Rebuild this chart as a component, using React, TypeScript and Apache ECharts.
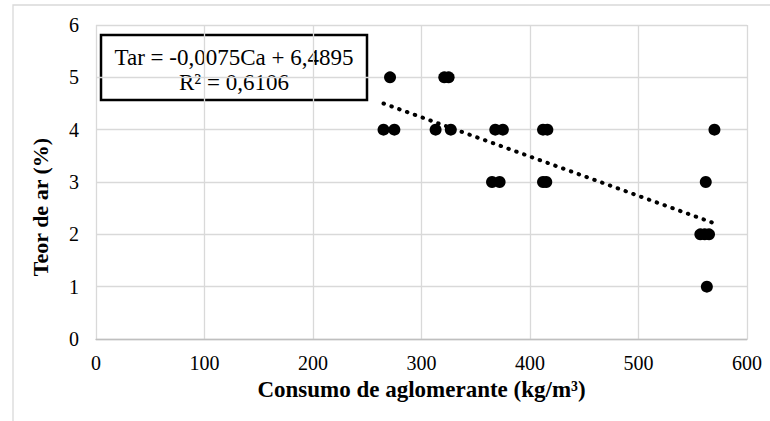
import React, { useEffect, useRef } from "react";
import * as echarts from "echarts";

// Consumo de aglomerante (kg/m³) and Teor de ar (%)
const consumo = [271, 321, 325, 265, 275, 313, 327, 368, 375, 412, 416, 570, 365, 372, 412, 415, 562, 557, 561, 565, 563];
const teorAr = [5, 5, 5, 4, 4, 4, 4, 4, 4, 4, 4, 4, 3, 3, 3, 3, 3, 2, 2, 2, 1];

// Linear trendline endpoints (Tar = -0,0075Ca + 6,4895)
const trendX = [265, 570];
const trendY = [4.5, 2.21];

const xTicks = { min: 0, max: 600, interval: 100 };
const yTicks = { min: 0, max: 6, interval: 1 };

const equationLine1 = "Tar = -0,0075Ca + 6,4895";
const equationLine2 = "R² = 0,6106";
const xTitle = "Consumo de aglomerante (kg/m³)";
const yTitle = "Teor de ar (%)";

const FONT = '"Liberation Serif", "Times New Roman", serif';

export default function App() {
  const ref = useRef<HTMLDivElement>(null);
  useEffect(() => {
    if (!ref.current) return;
    const chart = echarts.init(ref.current, null, { renderer: "svg" });
    const grid = "#d9d9d9";
    chart.setOption({
      animation: false,
      backgroundColor: "#ffffff",
      grid: { left: 96, right: 23, top: 25, bottom: 82, containLabel: false },
      xAxis: {
        type: "value",
        min: xTicks.min,
        max: xTicks.max,
        interval: xTicks.interval,
        name: xTitle,
        nameLocation: "middle",
        nameGap: 38,
        nameTextStyle: { fontFamily: FONT, fontWeight: "bold", fontSize: 23, color: "#000" },
        axisLine: { show: true, lineStyle: { color: "#bfbfbf", width: 1.3 } },
        axisTick: { show: false },
        axisLabel: { fontFamily: FONT, fontSize: 20, color: "#000", margin: 14 },
        splitLine: { show: true, lineStyle: { color: grid, width: 1.3 } },
      },
      yAxis: {
        type: "value",
        min: yTicks.min,
        max: yTicks.max,
        interval: yTicks.interval,
        axisLine: { show: false },
        axisTick: { show: false },
        axisLabel: { fontFamily: FONT, fontSize: 20, color: "#000", margin: 17 },
        splitLine: { show: true, lineStyle: { color: grid, width: 1.3 } },
      },
      series: [
        {
          type: "line",
          data: trendX.map((x, i) => [x, trendY[i]]),
          symbol: "none",
          silent: true,
          lineStyle: { color: "#000", width: 4, type: [0.5, 7.8], cap: "round", opacity: 1 },
          z: 3,
        },
        {
          type: "scatter",
          data: consumo.map((x, i) => [x, teorAr[i]]),
          symbol: "circle",
          symbolSize: 12,
          itemStyle: { color: "#000", opacity: 1 },
          z: 4,
        },
      ],
      graphic: [
        {
          type: "rect",
          silent: true,
          z: -10,
          shape: { x: 13, y: 5, width: 800, height: 500 },
          style: { fill: "none", stroke: "#d9d9d9", lineWidth: 1.3 },
        },
        {
          type: "text",
          x: 40,
          y: 207,
          rotation: Math.PI / 2,
          style: {
            text: yTitle,
            font: `bold 22px ${FONT}`,
            fill: "#000",
            align: "center",
            verticalAlign: "middle",
          },
        },
        {
          type: "group",
          z: 10,
          children: [
            {
              type: "rect",
              shape: { x: 101, y: 35, width: 266, height: 65 },
              style: { fill: "#fff", stroke: "#000", lineWidth: 2.5 },
            },
            {
              type: "text",
              x: 234,
              y: 57,
              style: {
                text: equationLine1,
                font: `23px ${FONT}`,
                fill: "#000",
                align: "center",
                verticalAlign: "middle",
              },
            },
            {
              type: "text",
              x: 234,
              y: 82,
              style: {
                text: equationLine2,
                font: `23px ${FONT}`,
                fill: "#000",
                align: "center",
                verticalAlign: "middle",
              },
            },
          ],
        },
      ],
    });
    return () => chart.dispose();
  }, []);
  return (
    <div style={{ position: "absolute", left: 0, top: 0, width: 770, height: 421 }}>
      <div ref={ref} style={{ width: 770, height: 421 }} />
    </div>
  );
}
